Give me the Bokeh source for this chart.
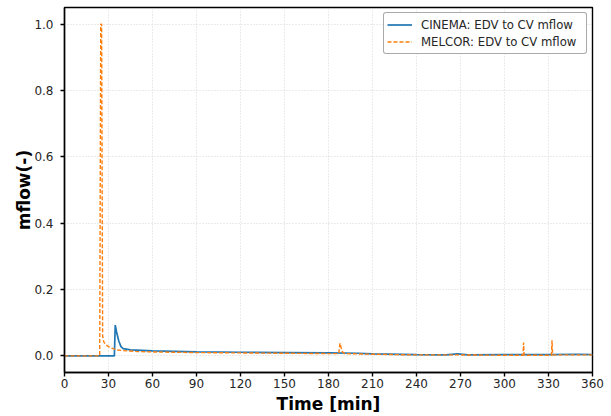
from bokeh.plotting import figure
from bokeh.models import Range1d, Legend, LegendItem, FixedTicker, PrintfTickFormatter
from bokeh.embed import file_html
from bokeh.resources import INLINE

# CINEMA series
cinema_t = [0, 34.0, 34.6, 35.5, 37.0, 38.5, 40, 45, 60, 90, 120, 150, 180, 200, 210,
            240, 260, 268, 275, 300, 330, 350, 360]
cinema_v = [0.0, 0.0, 0.093, 0.072, 0.045, 0.028, 0.022, 0.018, 0.015, 0.012, 0.011,
            0.010, 0.009, 0.008, 0.006, 0.004, 0.003, 0.006, 0.003, 0.004, 0.004, 0.005, 0.004]

# MELCOR series
melcor_t = [0, 24.0, 24.7, 25.3, 26.0, 26.8, 28, 30, 33, 36, 40, 50, 60, 90, 120, 150, 180,
            187.0, 187.8, 188.6, 189.5, 191, 200, 210, 240, 270, 300, 312.6, 313.0, 313.4,
            320, 332.0, 332.4, 332.8, 340, 360]
melcor_v = [0.0, 0.0, 1.0, 1.0, 0.06, 0.042, 0.034, 0.028, 0.022, 0.018, 0.016, 0.013, 0.012,
            0.010, 0.009, 0.008, 0.007, 0.007, 0.038, 0.025, 0.012, 0.007, 0.006, 0.005,
            0.003, 0.003, 0.002, 0.002, 0.04, 0.002, 0.002, 0.002, 0.047, 0.003, 0.003, 0.003]

x_ticks = [0, 30, 60, 90, 120, 150, 180, 210, 240, 270, 300, 330, 360]
y_ticks = [0.0, 0.2, 0.4, 0.6, 0.8, 1.0]

p = figure(width=611, height=416, output_backend="svg", toolbar_location=None,
           x_range=Range1d(0, 360), y_range=Range1d(-0.05, 1.05),
           min_border_left=64, min_border_right=19, min_border_top=7, min_border_bottom=43)

p.background_fill_color = "white"
p.outline_line_color = "black"
p.outline_line_width = 1.4

l1 = p.line(cinema_t, cinema_v, line_color="#1f77b4", line_width=1.7)
l2 = p.line(melcor_t, melcor_v, line_color="#ff7f0e", line_width=1.4, line_dash="4 2")

for ax in (p.xaxis[0], p.yaxis[0]):
    ax.axis_line_color = "black"
    ax.axis_line_width = 1.4
    ax.major_tick_line_color = "black"
    ax.major_tick_line_width = 1.4
    ax.major_tick_out = 4
    ax.major_tick_in = 0
    ax.minor_tick_line_color = None
    ax.major_label_text_font = "DejaVu Sans"
    ax.major_label_text_font_size = "12px"
    ax.major_label_text_color = "#262626"
    ax.axis_label_text_font = "DejaVu Sans"
    ax.axis_label_text_font_style = "bold"
    ax.axis_label_text_font_size = "17px"
    ax.axis_label_text_color = "black"

p.xaxis[0].ticker = FixedTicker(ticks=x_ticks)
p.yaxis[0].ticker = FixedTicker(ticks=y_ticks)
p.yaxis[0].formatter = PrintfTickFormatter(format="%.1f")
p.xaxis[0].axis_label = "Time [min]"
p.yaxis[0].axis_label = "mflow(-)"
p.xaxis[0].major_label_standoff = 2
p.xaxis[0].axis_label_standoff = 3
p.yaxis[0].major_label_standoff = 7
p.yaxis[0].axis_label_standoff = -3

for g in (p.xgrid[0], p.ygrid[0]):
    g.grid_line_color = "#cccccc"
    g.grid_line_dash = "1 2"
    g.grid_line_width = 0.8

legend = Legend(items=[LegendItem(label="CINEMA: EDV to CV mflow", renderers=[l1]),
                       LegendItem(label="MELCOR: EDV to CV mflow", renderers=[l2])],
                location="top_right")
legend.label_text_font = "DejaVu Sans"
legend.label_text_font_size = "11.7px"
legend.label_text_color = "#262626"
legend.border_line_color = "#555555"
legend.border_line_width = 1
legend.border_radius = 3
legend.margin = 5
legend.padding = 3
legend.spacing = 0
legend.label_height = 17
legend.glyph_height = 17
legend.glyph_width = 25
legend.label_width = 162
legend.label_standoff = 9
legend.background_fill_alpha = 0.9
p.add_layout(legend)

open("out.html", "w").write(file_html(p, INLINE))
